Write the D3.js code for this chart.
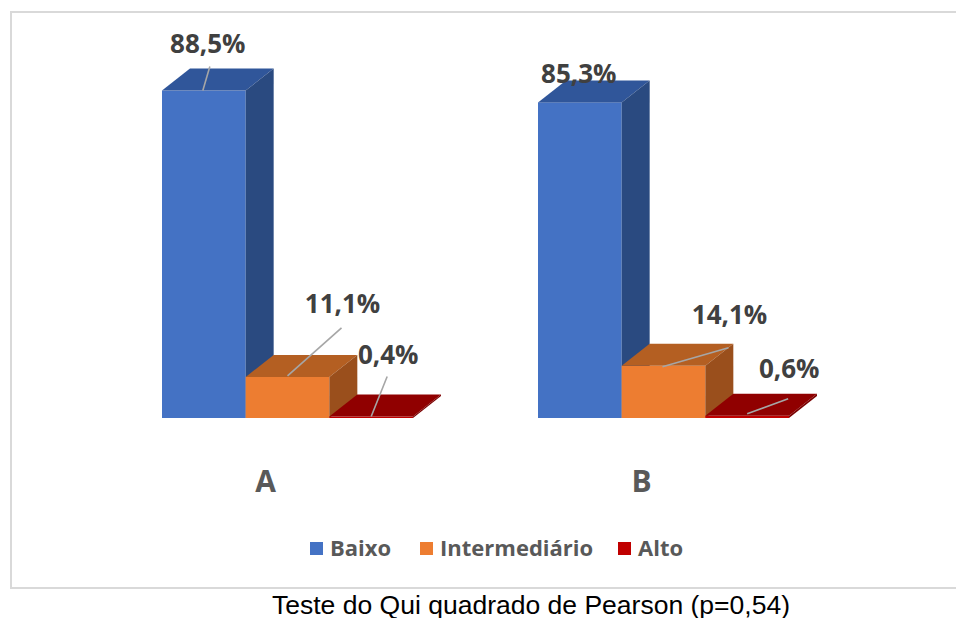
<!DOCTYPE html>
<html><head><meta charset="utf-8">
<script src="https://cdn.jsdelivr.net/npm/d3@7"></script>
<style>body{margin:0;background:#fff}svg{display:block}</style>
</head><body>
<svg id="c" width="956" height="618"></svg>
<script>
const categories = ["A", "B"];
const seriesNames = ["Baixo", "Intermediário", "Alto"];
const baixo = [88.5, 85.3];
const intermediario = [11.1, 14.1];
const alto = [0.4, 0.6];
const valueLabels = [["88,5%", "85,3%"], ["11,1%", "14,1%"], ["0,4%", "0,6%"]];
const caption = "Teste do Qui quadrado de Pearson (p=0,54)";

const seriesValues = [baixo, intermediario, alto];
const colors = [
  {front: "#4472C4", top: "#30569A", side: "#2A4A80"},
  {front: "#ED7D31", top: "#B45F22", side: "#9A4F1C"},
  {front: "#C00000", top: "#900000", side: "#7A0000"}
];
// label layout offsets relative to bar top-front centre [series][category]
const lblOff = [[[4,-38],[-1,-19]],[[55,-64],[66,-42]],[[17,-53],[42,-38]]];
const leader = [[[6,-24,-1,0], null],[[54,-49,0,-1],[65,-18,-1,1]],[[16,-40,0,0],[41,-17,0,-2]]];

const svg = d3.select("#c");
const dx = 28, dy = 22;

svg.append("rect").attr("x", 11).attr("y", 12).attr("width", 960).attr("height", 576)
  .attr("fill", "#fff").attr("stroke", "#d9d9d9").attr("stroke-width", 2);

const pad = 125 / 376;
const x0 = d3.scaleBand().domain(categories).range([99.5, 851.5]).paddingInner(pad).paddingOuter(pad / 2);
const x1 = d3.scaleBand().domain(seriesNames).range([0, x0.bandwidth()]);
const y = d3.scaleLinear().domain([0, 100]).range([418, 48]);
const y0 = y(0);

const g = svg.append("g");
categories.forEach((c, ci) => {
  seriesNames.forEach((s, si) => {
    const v = seriesValues[si][ci];
    const x = x0(c) + x1(s), w = x1.bandwidth(), yt = y(v);
    const col = colors[si];
    g.append("rect").attr("x", x).attr("y", yt).attr("width", w).attr("height", y0 - yt).attr("fill", col.front);
    g.append("path").attr("d", `M${x},${yt}L${x+dx},${yt-dy}L${x+w+dx},${yt-dy}L${x+w},${yt}Z`).attr("fill", col.top);
    g.append("path").attr("d", `M${x+w},${yt}L${x+w+dx},${yt-dy}L${x+w+dx},${y0-dy}L${x+w},${y0}Z`).attr("fill", col.side);
  });
});

categories.forEach((c, ci) => {
  seriesNames.forEach((s, si) => {
    const v = seriesValues[si][ci];
    const cx = x0(c) + x1(s) + x1.bandwidth() / 2, cy = y(v);
    const L = leader[si][ci];
    if (L) {
      g.append("line").attr("x1", cx + L[0]).attr("y1", cy + L[1]).attr("x2", cx + L[2]).attr("y2", cy + L[3])
        .attr("stroke", "#a6a6a6").attr("stroke-width", 1.6);
    }
    const o = lblOff[si][ci];
    g.append("text").attr("x", cx + o[0]).attr("y", cy + o[1]).attr("text-anchor", "middle")
      .attr("font-family", "'Open Sans', sans-serif").attr("font-weight", 700).attr("font-size", 26)
      .attr("fill", "#404040").text(valueLabels[si][ci]);
  });
  svg.append("text").attr("x", x0(c) + x0.bandwidth() / 2 - 22).attr("y", 492).attr("text-anchor", "middle")
    .attr("font-family", "'Open Sans', sans-serif").attr("font-weight", 700).attr("font-size", 30)
    .attr("fill", "#595959").text(c);
});

const legX = [310, 420, 618];
const leg = svg.append("g");
seriesNames.forEach((s, i) => {
  leg.append("rect").attr("x", legX[i]).attr("y", 542).attr("width", 13).attr("height", 13).attr("fill", colors[i].front);
  leg.append("text").attr("x", legX[i] + 20).attr("y", 556).attr("font-family", "'Open Sans', sans-serif")
    .attr("font-weight", 700).attr("font-size", 22).attr("fill", "#595959").text(s);
});

svg.append("text").attr("x", 272).attr("y", 614)
  .attr("font-family", "'Liberation Sans', Arial, sans-serif").attr("font-size", 25)
  .attr("textLength", 518).attr("lengthAdjust", "spacingAndGlyphs")
  .attr("fill", "#000").text(caption);
</script>
</body></html>
